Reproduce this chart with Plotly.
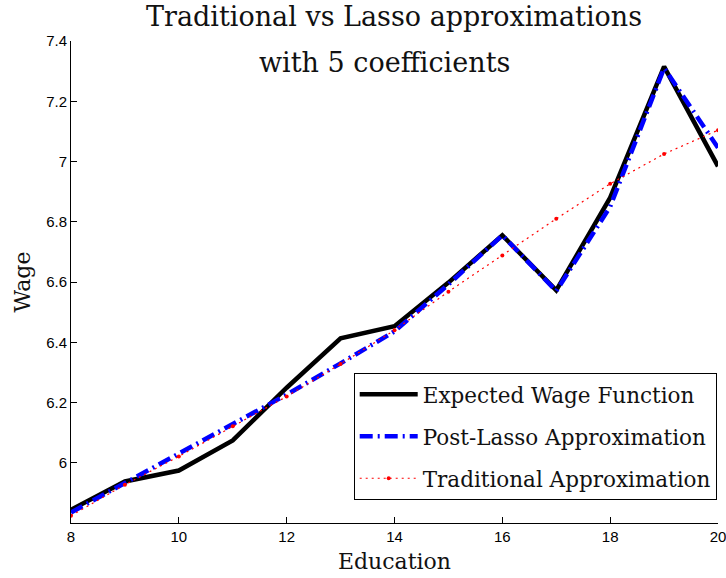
import plotly.graph_objects as go

education = [8, 9, 10, 11, 12, 13, 14, 15, 16, 17, 18, 19, 20]
expected_wage = [5.844, 5.938, 5.974, 6.074, 6.249, 6.413, 6.453, 6.598, 6.755, 6.572, 6.880, 7.315, 6.984]
post_lasso = [5.835, 5.933, 6.030, 6.130, 6.226, 6.330, 6.436, 6.592, 6.755, 6.570, 6.850, 7.310, 7.046]
traditional = [5.824, 5.927, 6.021, 6.121, 6.220, 6.328, 6.440, 6.568, 6.688, 6.810, 6.926, 7.025, 7.104]

x_ticks = [8, 10, 12, 14, 16, 18, 20]
x_tick_labels = ["8", "10", "12", "14", "16", "18", "20"]
y_ticks = [6.0, 6.2, 6.4, 6.6, 6.8, 7.0, 7.2, 7.4]
y_tick_labels = ["6", "6.2", "6.4", "6.6", "6.8", "7", "7.2", "7.4"]

serif = "DejaVu Serif"
sans = "Liberation Sans"

fig = go.Figure()
fig.add_trace(go.Scatter(x=education, y=expected_wage, mode="lines",
                         name="Expected Wage Function", legendgroup="a",
                         line=dict(color="black", width=4.5)))
fig.add_trace(go.Scatter(x=education, y=post_lasso, mode="lines",
                         name="Post-Lasso Approximation", legendgroup="b",
                         line=dict(color="blue", width=4.5, dash="13px,5px,2px,5px")))
fig.add_trace(go.Scatter(x=education, y=traditional, mode="lines+markers",
                         name="Traditional Approximation", legendgroup="c",
                         line=dict(color="red", width=1.2, dash="2px,4px"),
                         marker=dict(color="red", size=4)))

fig.update_layout(
    width=726, height=578,
    margin=dict(l=71, r=8, t=41, b=55),
    paper_bgcolor="white", plot_bgcolor="white",
    showlegend=True,
    legend=dict(x=0.998, y=0.048, xanchor="right", yanchor="bottom",
                bgcolor="white", bordercolor="black", borderwidth=1,
                font=dict(family=serif, size=21.5, color="#111111"),
                itemwidth=58, tracegroupgap=11, traceorder="grouped"),
    annotations=[
        dict(text="Traditional vs Lasso approximations", xref="paper", yref="paper",
             x=0.499, y=1.05, xanchor="center", yanchor="middle", showarrow=False,
             font=dict(family=serif, size=27, color="#111111")),
        dict(text="with 5 coefficients", xref="paper", yref="paper",
             x=0.485, y=0.955, xanchor="center", yanchor="middle", showarrow=False,
             font=dict(family=serif, size=27, color="#111111")),
    ],
)
fig.update_xaxes(range=[8, 20], tickvals=x_ticks, ticktext=x_tick_labels,
                 showgrid=False, zeroline=False, showline=True, linecolor="black",
                 linewidth=1, ticks="inside", ticklen=6, tickcolor="black",
                 automargin=False, ticklabeloverflow="allow",
                 tickfont=dict(family=sans, size=15, color="black"),
                 title=dict(text="Education", font=dict(family=serif, size=22, color="#111111"),
                            standoff=9))
fig.update_yaxes(range=[5.8, 7.4], tickvals=y_ticks, ticktext=y_tick_labels,
                 showgrid=False, zeroline=False, showline=True, linecolor="black",
                 linewidth=1, ticks="inside", ticklen=6, tickcolor="black",
                 automargin=False, ticklabeloverflow="allow",
                 tickfont=dict(family=sans, size=15, color="black"),
                 title=dict(text="Wage", font=dict(family=serif, size=22, color="#111111"),
                            standoff=9))

fig.write_html("out.html", config={"displayModeBar": False},
               post_script="document.body.style.margin='0';document.body.style.overflow='hidden';")
